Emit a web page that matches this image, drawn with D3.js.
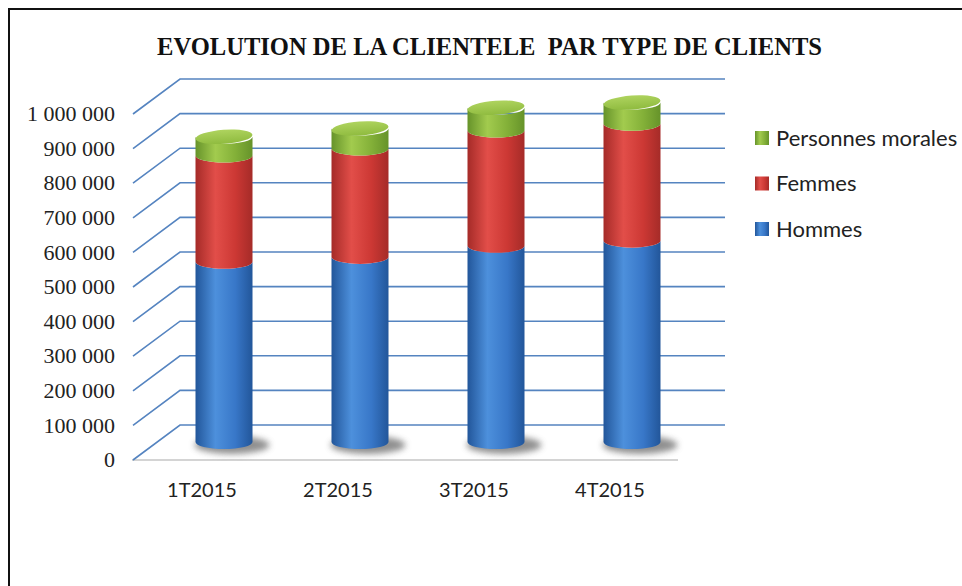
<!DOCTYPE html>
<html>
<head>
<meta charset="utf-8">
<script src="https://cdn.jsdelivr.net/npm/d3@7"></script>
<style>
  body { margin: 0; background: #fff; }
  svg { display: block; }
  .ylab { font-family: "Liberation Serif", serif; font-size: 22px; fill: #222; }
  .xlab { font-family: Lato, "Open Sans", sans-serif; font-size: 20px; fill: #222; }
  .leg { font-family: Lato, "Open Sans", sans-serif; font-size: 22px; fill: #222; }
  .title { font-family: "Liberation Serif", serif; font-weight: bold; font-size: 26px; fill: #111; white-space: pre; }
</style>
</head>
<body>
<script>
// Chart data
var categories = ["1T2015", "2T2015", "3T2015", "4T2015"];
var hommes = [521000, 535000, 567000, 582000];
var femmes = [307000, 313000, 333000, 338000];
var morales = [54000, 58000, 66000, 61000];
var seriesNames = ["Hommes", "Femmes", "Personnes morales"];
var yTicks = [0, 100000, 200000, 300000, 400000, 500000, 600000, 700000, 800000, 900000, 1000000];

var width = 962;
var height = 586;

var svg = d3.select("body").append("svg")
  .attr("width", width)
  .attr("height", height);

// Colours for the cylinders: [edge, light, mid]
var palette = {
  "Hommes": ["#22569a", "#4d90dc", "#3877c8"],
  "Femmes": ["#a52b28", "#e24e49", "#cc3834"],
  "Personnes morales": ["#66932a", "#a2cb4e", "#83b038"]
};
var capColor = "#9dc64b";

var defs = svg.append("defs");
seriesNames.forEach(function(name, i) {
  var g = defs.append("linearGradient")
    .attr("id", "grad" + i)
    .attr("x1", "0").attr("x2", "1").attr("y1", "0").attr("y2", "0");
  var c = palette[name];
  g.append("stop").attr("offset", "0%").attr("stop-color", c[0]);
  g.append("stop").attr("offset", "35%").attr("stop-color", c[1]);
  g.append("stop").attr("offset", "70%").attr("stop-color", c[2]);
  g.append("stop").attr("offset", "100%").attr("stop-color", c[0]);
});
var capGrad = defs.append("linearGradient")
  .attr("id", "capgrad")
  .attr("x1", "0").attr("x2", "0").attr("y1", "0").attr("y2", "1");
capGrad.append("stop").attr("offset", "0%").attr("stop-color", "#aed35e");
capGrad.append("stop").attr("offset", "100%").attr("stop-color", "#8fbb3f");

defs.append("filter").attr("id", "blur")
  .attr("x", "-50%").attr("y", "-50%").attr("width", "200%").attr("height", "200%")
  .append("feGaussianBlur").attr("stdDeviation", 3);

// Outer frame
svg.append("path")
  .attr("d", "M9,600 L9,9 L970,9")
  .attr("fill", "none")
  .attr("stroke", "#111")
  .attr("stroke-width", 2);

// Title
svg.append("text")
  .attr("class", "title")
  .attr("x", 157)
  .attr("y", 55)
  .attr("textLength", 665)
  .attr("lengthAdjust", "spacingAndGlyphs")
  .text("EVOLUTION DE LA CLIENTELE  PAR TYPE DE CLIENTS");

// Scales: front edge, back wall, and bar depth
var yFront = d3.scaleLinear().domain([0, 1000000]).range([460, 114]);
var yBack = d3.scaleLinear().domain([0, 1000000]).range([425, 79]);
var yBar = d3.scaleLinear().domain([0, 1000000]).range([442, 96]);
var xScale = d3.scaleBand().domain(categories).range([134, 678]);

var depthX = 47;
var barShift = 22;
var rx = 28.5;
var ry = 7;

var fmt = d3.formatLocale({ decimal: ",", thousands: " ", grouping: [3], currency: ["", ""] }).format(",");

// Floor front edge
svg.append("line")
  .attr("x1", 132).attr("x2", 678)
  .attr("y1", yFront(0)).attr("y2", yFront(0))
  .attr("stroke", "#d4d4d4")
  .attr("stroke-width", 2);

// Gridlines on the wall with diagonal side wall
var grid = svg.append("g")
  .attr("fill", "none")
  .attr("stroke", "#5584c0")
  .attr("stroke-width", 1.6);

grid.selectAll("path")
  .data(yTicks)
  .enter()
  .append("path")
  .attr("d", function(d) {
    return "M133," + yFront(d) + " L" + (133 + depthX) + "," + yBack(d) + " L725," + yBack(d);
  });

// Y labels
svg.selectAll(".ylab")
  .data(yTicks)
  .enter()
  .append("text")
  .attr("class", "ylab")
  .attr("x", 115)
  .attr("y", function(d) { return yFront(d); })
  .attr("dy", "0.33em")
  .attr("text-anchor", "end")
  .text(function(d) { return fmt(d); });

// X labels
svg.selectAll(".xlab")
  .data(categories)
  .enter()
  .append("text")
  .attr("class", "xlab")
  .attr("x", function(d) { return xScale(d) + xScale.bandwidth() / 2; })
  .attr("y", 497)
  .attr("text-anchor", "middle")
  .text(function(d) { return d; });

// Stack the series
var rows = categories.map(function(c, i) {
  return { cat: c, "Hommes": hommes[i], "Femmes": femmes[i], "Personnes morales": morales[i] };
});
var stack = d3.stack().keys(seriesNames)(rows);

function cx(d) {
  return xScale(d.data.cat) + xScale.bandwidth() / 2 + barShift;
}

// Shadows under the cylinders
svg.selectAll(".shadow")
  .data(rows)
  .enter()
  .append("ellipse")
  .attr("cx", function(d) { return xScale(d.cat) + xScale.bandwidth() / 2 + barShift + 8; })
  .attr("cy", yBar(0) + 3)
  .attr("rx", rx + 9)
  .attr("ry", 9)
  .attr("fill", "#6a6a6a")
  .attr("opacity", 0.75)
  .attr("filter", "url(#blur)");

// Cylinder segments
var layers = svg.selectAll(".layer")
  .data(stack)
  .enter()
  .append("g")
  .attr("class", "layer")
  .attr("fill", function(d, i) { return "url(#grad" + i + ")"; });

layers.selectAll("path")
  .data(function(d) { return d; })
  .enter()
  .append("path")
  .attr("d", function(d) {
    var x = cx(d);
    var yb = yBar(d[0]);
    var yt = yBar(d[1]);
    return "M" + (x - rx) + "," + yt +
      " A" + rx + "," + ry + " 0 0 0 " + (x + rx) + "," + yt +
      " L" + (x + rx) + "," + yb +
      " A" + rx + "," + ry + " 0 0 1 " + (x - rx) + "," + yb + " Z";
  });

// Top caps of the cylinders
var topLayer = stack[stack.length - 1];
svg.selectAll(".cap")
  .data(topLayer)
  .enter()
  .append("ellipse")
  .attr("class", "cap")
  .attr("cx", function(d) { return cx(d); })
  .attr("cy", function(d) { return yBar(d[1]); })
  .attr("rx", rx)
  .attr("ry", ry)
  .attr("transform", function(d) { return "rotate(-4," + cx(d) + "," + yBar(d[1]) + ")"; })
  .attr("fill", "url(#capgrad)");

// Legend
var legendNames = seriesNames.slice().reverse();
var legend = svg.selectAll(".legend")
  .data(legendNames)
  .enter()
  .append("g")
  .attr("transform", function(d, i) { return "translate(755," + (138 + i * 45.5) + ")"; });

legend.append("rect")
  .attr("x", 0)
  .attr("y", -7)
  .attr("width", 14)
  .attr("height", 14)
  .attr("fill", function(d) { return "url(#grad" + seriesNames.indexOf(d) + ")"; });

legend.append("text")
  .attr("class", "leg")
  .attr("x", 21)
  .attr("dy", "0.36em")
  .text(function(d) { return d; });
</script>
</body>
</html>
